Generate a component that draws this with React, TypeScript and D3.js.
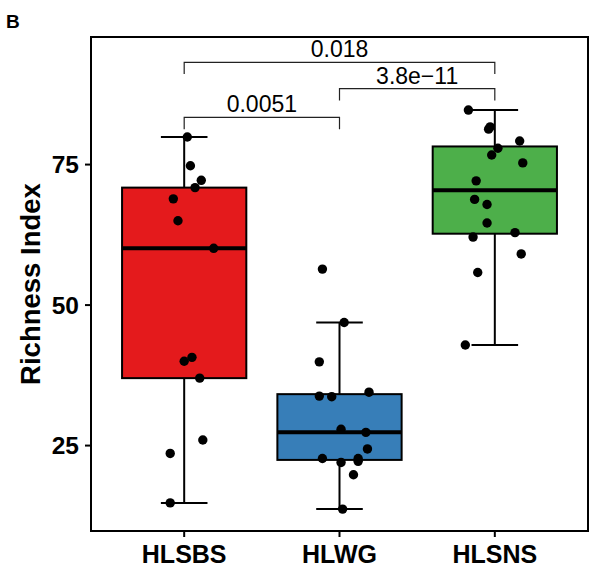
import React from 'react';
import * as d3 from 'd3';

// groups and fills
const groups = ['HLSBS', 'HLWG', 'HLSNS'];
const fills = ['#E41A1C', '#377EB8', '#4DAF4A'];

// richness values per sample, with horizontal jitter (category units)
const hlsbsValues = [79.9, 74.8, 72.2, 70.9, 68.9, 65.0, 60.1, 40.7, 40.0, 37.0, 26.0, 23.6, 14.8];
const hlsbsJitter = [0.02, 0.04, 0.11, 0.07, -0.07, -0.04, 0.19, 0.05, 0.0, 0.1, 0.12, -0.09, -0.09];

const hlwgValues = [56.4, 46.9, 39.9, 33.8, 33.7, 34.5, 27.9, 27.35, 24.4, 22.7, 22.7, 22.0, 22.2, 19.8, 13.7];
const hlwgJitter = [-0.11, 0.03, -0.13, -0.13, -0.05, 0.19, 0.01, 0.17, 0.18, -0.11, 0.12, 0.01, 0.12, 0.09, 0.02];

const hlsnsValues = [84.7, 81.3, 81.7, 79.2, 77.9, 76.7, 75.3, 72.1, 68.8, 67.9, 64.6, 62.9, 62.1, 59.1, 55.8, 42.9];
const hlsnsJitter = [-0.17, -0.04, -0.03, 0.16, 0.02, -0.02, 0.18, -0.12, -0.13, -0.05, -0.05, 0.13, -0.14, 0.17, -0.11, -0.19];

// pairwise comparisons
const compFrom = ['HLSBS', 'HLWG', 'HLSBS'];
const compTo = ['HLWG', 'HLSNS', 'HLSNS'];
const compLabels = ['0.0051', '3.8e\u221211', '0.018'];
const compY = [83.4, 88.5, 93.2];
const tipLength = 2.1;

const yTicks = [25, 50, 75];

const W = 589;
const H = 568;
const margin = { top: 37, right: 1, bottom: 37, left: 91 };
const font = '"Liberation Sans", Arial, Helvetica, sans-serif';

const boxStats = (vals: number[]) => {
  const s = vals.slice().sort(d3.ascending);
  const q1 = d3.quantile(s, 0.25) as number;
  const med = d3.quantile(s, 0.5) as number;
  const q3 = d3.quantile(s, 0.75) as number;
  const iqr = q3 - q1;
  const lo = d3.min(s.filter(v => v >= q1 - 1.5 * iqr)) as number;
  const hi = d3.max(s.filter(v => v <= q3 + 1.5 * iqr)) as number;
  return { q1, med, q3, lo, hi };
};

export default function App() {
  const values = [hlsbsValues, hlwgValues, hlsnsValues];
  const jitters = [hlsbsJitter, hlwgJitter, hlsnsJitter];

  const x = d3.scaleLinear().domain([0.4, 3.6]).range([margin.left, W - margin.right]);
  const y = d3.scaleLinear().domain([9.8, 97.7]).range([H - margin.bottom, margin.top]);
  const pos = (g: string) => groups.indexOf(g) + 1;

  const boxW = x(0.8) - x(0);
  const capW = x(0.3) - x(0);
  const x0 = margin.left;
  const x1 = W - margin.right;
  const y0 = margin.top;
  const y1 = H - margin.bottom;

  return (
    <svg width={W} height={H} style={{ position: 'absolute', left: 0, top: 0, background: '#fff' }} fontFamily={font}>
      <text x={6} y={28} fontSize={19} fontWeight="bold">B</text>

      {groups.map((g, i) => {
        const st = boxStats(values[i]);
        const cx = x(i + 1);
        return (
          <g key={g}>
            <line x1={cx} x2={cx} y1={y(st.lo)} y2={y(st.hi)} stroke="#000" strokeWidth={2} />
            <line x1={cx - capW / 2} x2={cx + capW / 2} y1={y(st.hi)} y2={y(st.hi)} stroke="#000" strokeWidth={2} />
            <line x1={cx - capW / 2} x2={cx + capW / 2} y1={y(st.lo)} y2={y(st.lo)} stroke="#000" strokeWidth={2} />
            <rect x={cx - boxW / 2} y={y(st.q3)} width={boxW} height={y(st.q1) - y(st.q3)}
              fill={fills[i]} stroke="#000" strokeWidth={2} />
            <line x1={cx - boxW / 2} x2={cx + boxW / 2} y1={y(st.med)} y2={y(st.med)} stroke="#000" strokeWidth={4} />
          </g>
        );
      })}

      {groups.map((g, i) => (
        <g key={g + '-pts'}>
          {values[i].map((v, j) => (
            <circle key={j} cx={x(i + 1 + jitters[i][j])} cy={y(v)} r={4.7} fill="#000" />
          ))}
        </g>
      ))}

      {compLabels.map((lab, i) => {
        const xa = x(pos(compFrom[i]));
        const xb = x(pos(compTo[i]));
        const yl = y(compY[i]);
        const yt = y(compY[i] - tipLength);
        return (
          <g key={lab}>
            <path d={`M${xa},${yt}V${yl}H${xb}V${yt}`} fill="none" stroke="#222" strokeWidth={1.2} />
            <text x={(xa + xb) / 2} y={yl - 5} textAnchor="middle" fontSize={23}>{lab}</text>
          </g>
        );
      })}

      <rect x={x0} y={y0} width={x1 - x0} height={y1 - y0} fill="none" stroke="#000" strokeWidth={2} />

      {yTicks.map(t => (
        <g key={t}>
          <line x1={x0 - 6} x2={x0} y1={y(t)} y2={y(t)} stroke="#000" strokeWidth={2} />
          <text x={x0 - 12} y={y(t)} dy="0.35em" textAnchor="end" fontSize={24.5} fontWeight="bold">{t}</text>
        </g>
      ))}

      {groups.map((g, i) => (
        <g key={g + '-x'}>
          <line x1={x(i + 1)} x2={x(i + 1)} y1={y1} y2={y1 + 6} stroke="#000" strokeWidth={2} />
          <text x={x(i + 1)} y={563} textAnchor="middle" fontSize={25} fontWeight="bold">{g}</text>
        </g>
      ))}

      <text transform={`translate(40,${(y0 + y1) / 2}) rotate(-90)`} textAnchor="middle" fontSize={27.5} fontWeight="bold">
        Richness Index
      </text>
    </svg>
  );
}
